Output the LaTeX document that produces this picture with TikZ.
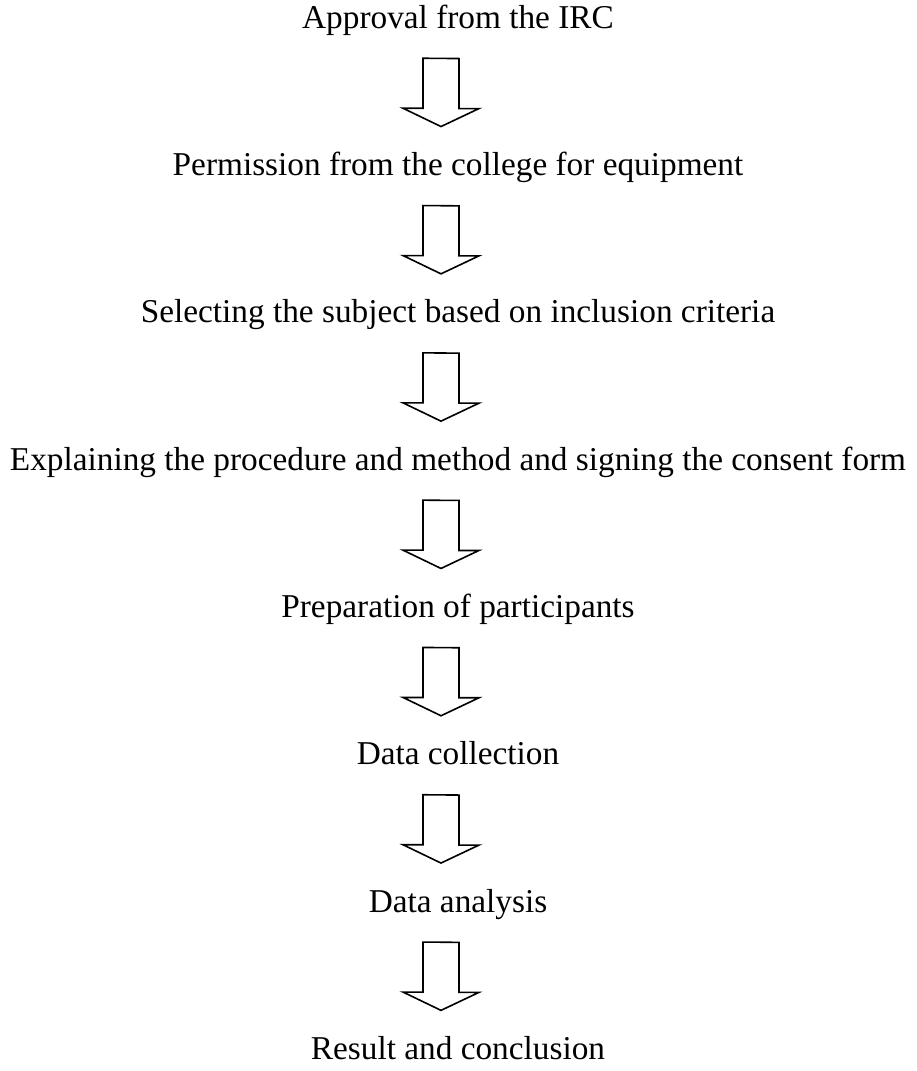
\documentclass[tikz,border=0pt]{standalone}
\usepackage{fontspec}
\setmainfont{Liberation Serif}
\usetikzlibrary{calc}
\tikzstyle{stage} = [text centered, inner sep=0pt, text height=0.7em, text depth=0.25em, font=\fontsize{33.3}{40}\selectfont]
\tikzstyle{hollow} = [draw=black, line width=1.6pt, fill=white, line join=miter]

% hollow block arrow from one stage down to the next
\newcommand{\flowarrow}[2]{%
    \draw [hollow] ($(#1.base)+(-35,-30)$) -- ++(0,-50) -- ++(-20,0)
        -- ($(#2.base)+(-17,49)$) -- ++(38,18) -- ++(-20,0) -- ++(0,50) -- cycle;
}

\begin{document}
\begin{tikzpicture}[x=1pt, y=1pt, node distance=147.3pt]
    \useasboundingbox (0,0) rectangle (917,-1071);

    \node (irc) [stage] at (458,-26) {Approval from the IRC};
    \node (college) [stage, below of=irc] {Permission from the college for equipment};
    \node (select) [stage, below of=college] {Selecting the subject based on inclusion criteria};
    \node (consent) [stage, below of=select] {Explaining the procedure and method and signing the consent form};
    \node (prep) [stage, below of=consent] {Preparation of participants};
    \node (collect) [stage, below of=prep] {Data collection};
    \node (analysis) [stage, below of=collect] {Data analysis};
    \node (result) [stage, below of=analysis] {Result and conclusion};

    \flowarrow{irc}{college}
    \flowarrow{college}{select}
    \flowarrow{select}{consent}
    \flowarrow{consent}{prep}
    \flowarrow{prep}{collect}
    \flowarrow{collect}{analysis}
    \flowarrow{analysis}{result}
\end{tikzpicture}
\end{document}
